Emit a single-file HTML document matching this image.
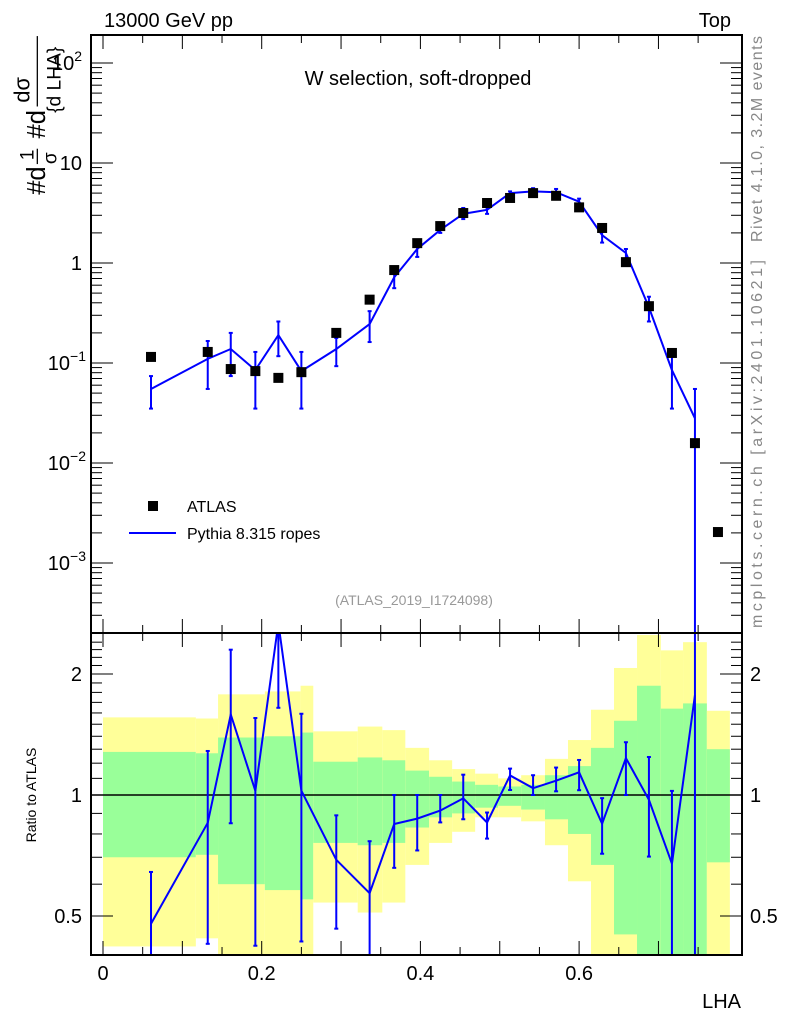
<!DOCTYPE html>
<html><head><meta charset="utf-8">
<style>
html,body{margin:0;padding:0;background:#fff;overflow:hidden;width:786px;height:1024px;}
svg{display:block;overflow:hidden;font-family:"Liberation Sans",Arial,sans-serif;}
</style></head>
<body>
<svg id="chart" width="786" height="1024" viewBox="0 0 786 1024" xmlns="http://www.w3.org/2000/svg">
<defs>
<clipPath id="clipMain"><rect x="91" y="35" width="651" height="598"/></clipPath>
<clipPath id="clipRatio"><rect x="91" y="633" width="651" height="322"/></clipPath>
</defs>
<g id="bands" clip-path="url(#clipRatio)"></g>
<g id="ratioG" clip-path="url(#clipRatio)"></g>
<g id="mainG" clip-path="url(#clipMain)"></g>
<g id="axes"></g>
<text x="104" y="27" font-size="20">13000 GeV pp</text>
<text x="731" y="27" font-size="20" text-anchor="end">Top</text>
<text x="418" y="85" font-size="20" text-anchor="middle">W selection, soft-dropped</text>
<text x="414" y="605" font-size="14" fill="#999" text-anchor="middle">(ATLAS_2019_I1724098)</text>
<rect x="148" y="501" width="10" height="10" fill="#000"/>
<text x="187" y="512" font-size="16">ATLAS</text>
<line x1="129" y1="533" x2="176" y2="533" stroke="#00f" stroke-width="2"/>
<text x="187" y="539" font-size="16">Pythia 8.315 ropes</text>
<text transform="translate(762,139) rotate(-90)" font-size="16" fill="#888" text-anchor="middle" textLength="206" lengthAdjust="spacing">Rivet 4.1.0,  3.2M events</text>
<text transform="translate(762,444) rotate(-90)" font-size="16" fill="#888" text-anchor="middle" textLength="368" lengthAdjust="spacing">mcplots.cern.ch [arXiv:2401.10621]</text>
<g transform="translate(45,118) rotate(-90) scale(1.28)">
<text x="-60" y="0" font-size="20">#d</text>
<text x="-33" y="-9" font-size="15">1</text>
<line x1="-36" y1="-6" x2="-24" y2="-6" stroke="#000" stroke-width="1"/>
<text x="-36" y="9" font-size="15">σ</text>
<text x="-16" y="0" font-size="20">#d</text>
<text x="12" y="-12" font-size="17">dσ</text>
<line x1="9" y1="-6" x2="64" y2="-6" stroke="#000" stroke-width="1"/>
<text x="4" y="12" font-size="15">{d LHA}</text>
</g>
<text transform="translate(36,795) rotate(-90)" font-size="14" text-anchor="middle">Ratio to ATLAS</text>
<text x="741" y="1008" font-size="20" text-anchor="end">LHA</text>
</svg>
<script>
var xCenters=[0.0605,0.132,0.161,0.192,0.221,0.25,0.294,0.336,0.367,0.396,0.425,0.454,0.484,0.513,0.542,0.571,0.6,0.629,0.659,0.688,0.717,0.746,0.775];
var atlasVals=[0.115,0.129,0.087,0.083,0.071,0.081,0.20,0.43,0.85,1.58,2.34,3.16,3.98,4.47,5.0,4.7,3.6,2.24,1.02,0.37,0.126,0.0158,0.00204];
var mcVals=[0.055,0.11,0.138,0.085,0.19,0.083,0.138,0.245,0.72,1.38,2.14,3.1,3.4,5.0,5.2,5.1,4.1,1.9,1.26,0.36,0.085,0.028];
var mcUp=[0.074,0.166,0.2,0.129,0.26,0.129,0.178,0.33,0.85,1.58,2.34,3.55,3.6,5.2,5.6,5.5,4.4,2.2,1.38,0.46,0.129,0.055];
var mcDn=[0.035,0.055,0.074,0.035,0.117,0.035,0.093,0.162,0.56,1.15,2.0,2.75,3.1,4.6,5.0,4.8,3.7,1.6,1.02,0.26,0.035,0.00001];
var bandEdges=[0,0.117,0.145,0.204,0.249,0.265,0.321,0.352,0.381,0.411,0.44,0.469,0.498,0.527,0.557,0.586,0.615,0.644,0.673,0.703,0.731,0.761,0.79];
var yelHi=[1.56,1.55,1.78,1.81,1.87,1.44,1.48,1.45,1.31,1.22,1.16,1.13,1.10,1.12,1.23,1.37,1.63,2.07,2.5,2.29,2.40,1.62];
var grnHi=[1.28,1.27,1.39,1.40,1.43,1.21,1.24,1.22,1.15,1.11,1.08,1.06,1.05,1.06,1.12,1.18,1.31,1.53,1.87,1.64,1.69,1.30];
var grnLo=[0.70,0.71,0.60,0.58,0.55,0.76,0.75,0.76,0.83,0.88,0.90,0.93,0.94,0.92,0.87,0.80,0.67,0.45,0.3,0.3,0.3,0.68];
var yelLo=[0.42,0.44,0.3,0.3,0.3,0.54,0.51,0.54,0.67,0.76,0.81,0.88,0.88,0.86,0.75,0.61,0.3,0.3,0.3,0.3,0.3,0.3];
var yTickExps=[-3,-2,-1,0,1,2];
var xTickLabels=[0,0.2,0.4,0.6];
var ratioTicks=[0.5,1,2];

var NS="http://www.w3.org/2000/svg";
function X(v){return 103+v*793.5;}
function Y(v){return 263-100*Math.log10(v);}
function R(v){return 795-121*Math.log2(v);}
function mk(parent,tag,attrs){var e=document.createElementNS(NS,tag);for(var k in attrs)e.setAttribute(k,attrs[k]);document.getElementById(parent).appendChild(e);return e;}

for(var i=0;i<yelHi.length;i++){
  var x0=X(bandEdges[i]),x1=X(bandEdges[i+1]);
  var e=mk('bands','rect',{x:x0,y:R(yelHi[i]),width:x1-x0,height:R(yelLo[i])-R(yelHi[i]),fill:'#ffff99'});
  
  
  var g=mk('bands','rect',{x:x0,y:R(grnHi[i]),width:x1-x0,height:R(grnLo[i])-R(grnHi[i]),fill:'#99ff99'});
  
  
}
var l1=mk('ratioG','line',{x1:91,x2:742,y1:R(1),y2:R(1),stroke:'#000','stroke-width':1.5});



var pts=[],rpts=[];
for(var i=0;i<mcVals.length;i++){
  pts.push(X(xCenters[i])+','+Y(mcVals[i]));
  var r=mcVals[i]/atlasVals[i];
  rpts.push(X(xCenters[i])+','+R(r));
  var eb=mk('mainG','line',{x1:X(xCenters[i]),x2:X(xCenters[i]),y1:Y(mcUp[i]),y2:Y(mcDn[i]),stroke:'#00f','stroke-width':2});
  
  
  mk('mainG','line',{x1:X(xCenters[i])-2,x2:X(xCenters[i])+2,y1:Y(mcUp[i]),y2:Y(mcUp[i]),stroke:'#00f','stroke-width':2});
  mk('mainG','line',{x1:X(xCenters[i])-2,x2:X(xCenters[i])+2,y1:Y(mcDn[i]),y2:Y(mcDn[i]),stroke:'#00f','stroke-width':2});
  var rb=mk('ratioG','line',{x1:X(xCenters[i]),x2:X(xCenters[i]),y1:R(mcUp[i]/atlasVals[i]),y2:R(mcDn[i]/atlasVals[i]),stroke:'#00f','stroke-width':2});
  
  
  mk('ratioG','line',{x1:X(xCenters[i])-2,x2:X(xCenters[i])+2,y1:R(mcUp[i]/atlasVals[i]),y2:R(mcUp[i]/atlasVals[i]),stroke:'#00f','stroke-width':2});
  mk('ratioG','line',{x1:X(xCenters[i])-2,x2:X(xCenters[i])+2,y1:R(mcDn[i]/atlasVals[i]),y2:R(mcDn[i]/atlasVals[i]),stroke:'#00f','stroke-width':2});
}
var pl=mk('mainG','polyline',{points:pts.join(' '),fill:'none',stroke:'#00f','stroke-width':2});


var rl=mk('ratioG','polyline',{points:rpts.join(' '),fill:'none',stroke:'#00f','stroke-width':2});


for(var i=0;i<atlasVals.length;i++){
  var m=mk('mainG','rect',{x:X(xCenters[i])-5,y:Y(atlasVals[i])-5,width:10,height:10,fill:'#000'});
  
  
}

var f1=mk('axes','rect',{x:91,y:35,width:651,height:598,fill:'none',stroke:'#000','stroke-width':2});


var f2=mk('axes','rect',{x:91,y:633,width:651,height:322,fill:'none',stroke:'#000','stroke-width':2});


for(var d=-4;d<=2;d++){
  for(var k=1;k<10;k++){
    var yy=Y(k*Math.pow(10,d));
    if(yy<35||yy>633)continue;
    var len=(k==1)?22:11;
    mk('axes','line',{x1:91,x2:91+len,y1:yy,y2:yy,stroke:'#000','stroke-width':1});
    mk('axes','line',{x1:742,x2:742-len,y1:yy,y2:yy,stroke:'#000','stroke-width':1});
  }
}
yTickExps.forEach(function(e){
  var yy=Y(Math.pow(10,e));
  var t;
  if(e==0){t=mk('axes','text',{x:82,y:yy+7,'font-size':20,'text-anchor':'end'});t.textContent='1';}
  else if(e==1){t=mk('axes','text',{x:82,y:yy+7,'font-size':20,'text-anchor':'end'});t.textContent='10';}
  else{t=mk('axes','text',{x:82,y:yy+7,'font-size':20,'text-anchor':'end'});
    var a=document.createElementNS(NS,'tspan');a.textContent='10';t.appendChild(a);
    var b=document.createElementNS(NS,'tspan');b.setAttribute('dy','-9');b.setAttribute('font-size','14');b.textContent=(e<0?'\u2212'+(-e):''+e);t.appendChild(b);
    t.setAttribute('x',e<0?86:82);}
  
  
});
for(var v=0;v<=0.8;v+=0.05){
  var xx=X(v); if(xx>742)continue;
  var big=Math.abs(v*10-Math.round(v*10))<1e-6;
  var len=big?14:8;
  mk('axes','line',{x1:xx,x2:xx,y1:35,y2:35+len,stroke:'#000','stroke-width':1});
  mk('axes','line',{x1:xx,x2:xx,y1:633,y2:633-len,stroke:'#000','stroke-width':1});
  mk('axes','line',{x1:xx,x2:xx,y1:633,y2:633+len,stroke:'#000','stroke-width':1});
  mk('axes','line',{x1:xx,x2:xx,y1:955,y2:955-len,stroke:'#000','stroke-width':1});
}
xTickLabels.forEach(function(v){
  var t=mk('axes','text',{x:X(v),y:980,'font-size':20,'text-anchor':'middle'});
  t.textContent=(v==0?'0':v.toFixed(1));
  
  
});
[0.4,0.5,0.6,0.7,0.8,0.9,1,2].forEach(function(v){
  var yy=R(v); var big=(v==0.5||v==1||v==2); var len=big?22:11;
  mk('axes','line',{x1:91,x2:91+len,y1:yy,y2:yy,stroke:'#000','stroke-width':1});
  mk('axes','line',{x1:742,x2:742-len,y1:yy,y2:yy,stroke:'#000','stroke-width':1});
});
for(var v=1.1;v<2.5;v+=0.1){var yy=R(v);if(Math.abs(v-2)<0.01)continue;
  mk('axes','line',{x1:91,x2:102,y1:yy,y2:yy,stroke:'#000','stroke-width':1});
  mk('axes','line',{x1:742,x2:731,y1:yy,y2:yy,stroke:'#000','stroke-width':1});}
ratioTicks.forEach(function(v){
  var s=(v==0.5?'0.5':''+v);
  var t=mk('axes','text',{x:82,y:R(v)+7,'font-size':20,'text-anchor':'end'});t.textContent=s;
  
  
  var t2=mk('axes','text',{x:750,y:R(v)+7,'font-size':20});t2.textContent=s;
  
  
});
</script>
</body></html>
